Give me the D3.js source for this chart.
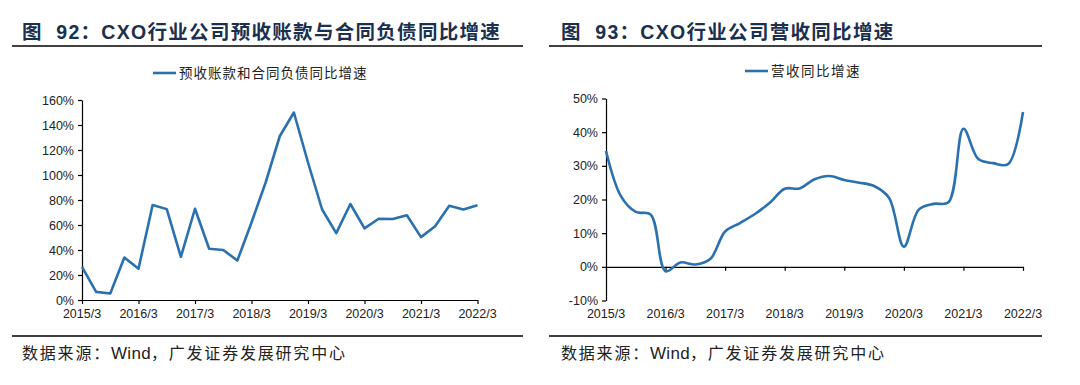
<!DOCTYPE html>
<html>
<head>
<meta charset="utf-8">
<script src="https://cdn.jsdelivr.net/npm/d3@7/dist/d3.min.js"></script>
<style>
  html, body { margin: 0; padding: 0; background: #fff; }
  svg { display: block; }
</style>
</head>
<body>
<svg id="chart" width="1080" height="385"></svg>
<script>
// ---------- DATA ----------
const quarters = [
  "2015/3","2015/6","2015/9","2015/12",
  "2016/3","2016/6","2016/9","2016/12",
  "2017/3","2017/6","2017/9","2017/12",
  "2018/3","2018/6","2018/9","2018/12",
  "2019/3","2019/6","2019/9","2019/12",
  "2020/3","2020/6","2020/9","2020/12",
  "2021/3","2021/6","2021/9","2021/12",
  "2022/3"
];
const xTickLabels = ["2015/3","2016/3","2017/3","2018/3","2019/3","2020/3","2021/3","2022/3"];

// Fig 92: advance receipts & contract liabilities YoY (%)
const advanceGrowth = [
  26.5, 6.5, 5.2, 34,
  25, 76, 72.7, 34.5,
  73, 41, 40, 31.6,
  62, 94, 131, 150,
  110, 72.4, 53.5, 76.8,
  57.3, 65, 64.8, 67.8,
  50.3, 59, 75.4, 72.4,
  75.8
];
const leftYTicks = [0, 20, 40, 60, 80, 100, 120, 140, 160];

// Fig 93: revenue YoY (%)
const revenueGrowth = [
  34.4, 21, 16.3, 15.5,
  -1.3, 1.3, 0.7, 2.3,
  10.5, 13, 15.7, 19,
  23.2, 23.3, 26, 27,
  25.8, 25, 24, 20.5,
  6, 17, 18.7, 19.2,
  41, 32, 30.8, 30.5,
  46
];
const rightYTicks = [-10, 0, 10, 20, 30, 40, 50];

const leftTitle = "图  92：CXO行业公司预收账款与合同负债同比增速";
const rightTitle = "图  93：CXO行业公司营收同比增速";
const leftLegend = "预收账款和合同负债同比增速";
const rightLegend = "营收同比增速";
const sourceParts = ["数据来源：", "Wind", "，广发证券发展研究中心"];

// ---------- DRAW ----------
const svg = d3.select("#chart");
const lineColor = "#2B70B0";
const titleColor = "#1b2f4e";
const latinFont = "'Liberation Sans', Arial, 'Noto Sans CJK SC', sans-serif";
const cjkFont = "'Noto Sans CJK SC', 'Liberation Sans', sans-serif";

function panel(opts) {
  const g = svg.append("g");
  // title
  g.append("text")
    .attr("x", opts.titleX).attr("y", 39)
    .attr("font-family", latinFont)
    .attr("font-weight", "bold")
    .attr("font-size", 19.5)
    .attr("letter-spacing", 1.3)
    .attr("xml:space", "preserve")
    .style("white-space", "pre")
    .attr("fill", titleColor)
    .text(opts.title);
  // rules
  g.append("line").attr("x1", opts.ruleX0).attr("x2", opts.ruleX1)
    .attr("y1", 46).attr("y2", 46).attr("stroke", "#000").attr("stroke-width", 1.6);
  g.append("line").attr("x1", opts.ruleX0).attr("x2", opts.ruleX1)
    .attr("y1", 336).attr("y2", 336).attr("stroke", "#000").attr("stroke-width", 1.6);
  // source
  const src = g.append("text")
    .attr("x", opts.titleX).attr("y", 359)
    .attr("font-family", cjkFont)
    .attr("font-size", 16)
    .attr("fill", "#222");
  src.append("tspan").attr("letter-spacing", 1.8).text(sourceParts[0]);
  src.append("tspan").attr("font-family", latinFont).attr("font-size", 17)
    .attr("letter-spacing", 0.3).text(sourceParts[1]);
  src.append("tspan").attr("letter-spacing", 1.8).text(sourceParts[2]);

  const x = d3.scalePoint().domain(quarters).range([opts.x0, opts.x1]);
  const y = d3.scaleLinear().domain(opts.yDomain).range([opts.yBottom, opts.yTop]);

  // y axis
  const yAxis = d3.axisLeft(y).tickValues(opts.yTicks)
    .tickFormat(d => d + "%").tickSize(4).tickSizeOuter(0).tickPadding(4);
  const ya = g.append("g").attr("transform", `translate(${opts.x0},0)`).call(yAxis);
  ya.select(".domain").attr("stroke", "#000").attr("stroke-width", 1.2);
  ya.selectAll(".tick line").attr("stroke", "#000").attr("stroke-width", 1.2);
  ya.selectAll("text").attr("font-family", latinFont).attr("font-size", 12.5).attr("fill", "#222");

  // x axis at baseline (0)
  const xAxis = d3.axisBottom(x)
    .tickValues(xTickLabels).tickSize(4).tickSizeOuter(0).tickFormat(() => "");
  const xa = g.append("g").attr("transform", `translate(0,${y(0)})`).call(xAxis);
  xa.select(".domain").attr("stroke", "#000").attr("stroke-width", 1.2);
  xa.selectAll(".tick line").attr("stroke", "#000").attr("stroke-width", 1.2);

  // x labels at bottom
  g.selectAll(".xlab").data(xTickLabels).enter().append("text")
    .attr("x", d => x(d)).attr("y", 318)
    .attr("text-anchor", "middle")
    .attr("font-family", latinFont).attr("font-size", 12.5).attr("fill", "#222")
    .text(d => d);

  // line
  const line = d3.line()
    .x((d, i) => x(quarters[i]))
    .y(d => y(d))
    .curve(opts.curve);
  g.append("path").datum(opts.values)
    .attr("fill", "none").attr("stroke", lineColor)
    .attr("stroke-width", 2.6).attr("stroke-linejoin", "round")
    .attr("d", line);

  // legend
  g.append("line").attr("x1", opts.legX).attr("x2", opts.legX + 23)
    .attr("y1", opts.legY).attr("y2", opts.legY)
    .attr("stroke", lineColor).attr("stroke-width", 2.6);
  g.append("text").attr("x", opts.legX + 26).attr("y", opts.legY + 5)
    .attr("font-family", cjkFont).attr("font-size", 13.5)
    .attr("letter-spacing", opts.legSpacing)
    .attr("fill", "#222")
    .text(opts.legend);
}

panel({
  title: leftTitle, titleX: 22, ruleX0: 12, ruleX1: 523,
  x0: 82, x1: 477.5, yDomain: [0, 160], yBottom: 300, yTop: 100, yTicks: leftYTicks,
  values: advanceGrowth, curve: d3.curveLinear,
  legend: leftLegend, legX: 153, legY: 73, legSpacing: 1.0
});

panel({
  title: rightTitle, titleX: 561, ruleX0: 549, ruleX1: 1042,
  x0: 606, x1: 1023, yDomain: [-10, 50], yBottom: 300.5, yTop: 98.5, yTicks: rightYTicks,
  values: revenueGrowth, curve: d3.curveCatmullRom.alpha(0.5),
  legend: rightLegend, legX: 745, legY: 71, legSpacing: 1.5
});
</script>
</body>
</html>
